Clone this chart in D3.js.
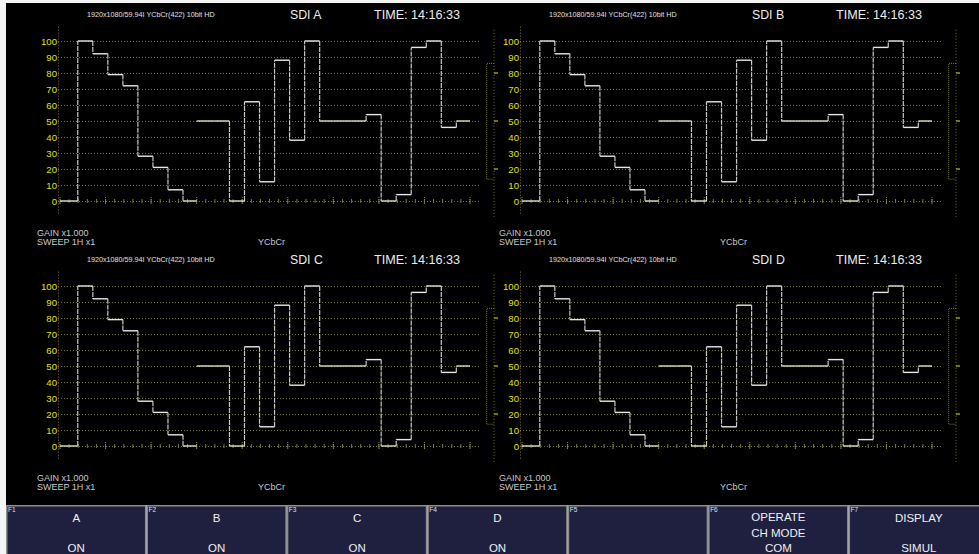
<!DOCTYPE html>
<html><head><meta charset="utf-8">
<script src="https://cdn.jsdelivr.net/npm/d3@7/dist/d3.min.js"></script>
<style>html,body{margin:0;padding:0;background:#fff;overflow:hidden}svg{display:block}text{font-family:"Liberation Sans",Arial,sans-serif}</style>
</head><body><svg id="c" width="979" height="554"></svg>
<script>
// ---------- data ----------
const channels = ["SDI A", "SDI B", "SDI C", "SDI D"];
const formatLabel = "1920x1080/59.94I YCbCr(422) 10bit HD";
const timeLabel = "TIME: 14:16:33";
const yTicks = [0, 10, 20, 30, 40, 50, 60, 70, 80, 90, 100];
const components = ["Y", "Cb", "Cr"];
const blankLevels = [0, 50, 50];
const yLevels = [100, 92, 79, 72, 28, 21, 7];
const cbLevels = [50, 0, 62, 12, 88, 38, 100];
const crLevels = [50, 54, 0, 4, 96, 100, 46];
const componentLevels = [yLevels, cbLevels, crLevels];
const gainText = "GAIN x1.000";
const sweepText = "SWEEP 1H x1";
const modeText = "YCbCr";
const bracketMarks = [80, 50, 20];
const keyNames = ["F1", "F2", "F3", "F4", "F5", "F6", "F7"];
const keyTop = [["A"], ["B"], ["C"], ["D"], [], ["OPERATE", "CH MODE"], ["DISPLAY"]];
const keyBottom = ["ON", "ON", "ON", "ON", "", "COM", "SIMUL"];

// ---------- layout ----------
const svg = d3.select("#c");
svg.append("rect").attr("x", 0).attr("y", 0).attr("width", 979).attr("height", 554).attr("fill", "#f4f4f4");
svg.append("rect").attr("x", 6).attr("y", 3).attr("width", 973).attr("height", 502).attr("fill", "#000");

const panelOffsets = [[0, 0], [462, 0], [0, 245], [462, 245]];
const gridCol = "#767632";
const activeStart = 0.13, barW = 0.11;

channels.forEach((name, pi) => {
  const [ox, oy] = panelOffsets[pi];
  const g = svg.append("g").attr("transform", `translate(${ox},${oy})`);
  const y = d3.scaleLinear().domain([0, 100]).range([201, 41]);
  const x = d3.scaleLinear().domain([0, 3]).range([60, 470]);

  // vertical dotted axis line
  g.append("line").attr("x1", 58.5).attr("x2", 58.5).attr("y1", y(109)).attr("y2", y(-8))
    .attr("stroke", gridCol).attr("stroke-dasharray", "1,2");

  // y axis with gridlines
  const ax = g.append("g").attr("transform", "translate(58,0)")
    .call(d3.axisLeft(y).tickValues(yTicks).tickSize(-(480 - 58)).tickSizeOuter(0).tickPadding(1));
  ax.select(".domain").remove();
  ax.selectAll(".tick line").attr("stroke", gridCol).attr("stroke-dasharray", "1,2");
  ax.selectAll(".tick text").attr("fill", "#e2e200").attr("font-size", "9.6px")
    .attr("font-family", "Liberation Sans, Arial, sans-serif");

  // ticks on the zero line
  const minor = d3.range(0, 45 + 1).map(i => i / 15);
  g.selectAll(".mt").data(minor).enter().append("line")
    .attr("x1", d => x(d)).attr("x2", d => x(d))
    .attr("y1", y(0) - 2).attr("y2", y(0) + 2)
    .attr("stroke", "#7a7a38").attr("stroke-width", 1);
  const major = d3.range(0, 10).map(i => i / 3);
  g.selectAll(".Mt").data(major).enter().append("line")
    .attr("x1", d => x(d)).attr("x2", d => x(d))
    .attr("y1", y(0) - 4).attr("y2", y(0) + 4)
    .attr("stroke", "#8a8a3c").attr("stroke-width", 1).attr("stroke-dasharray", "1,1");

  // waveform
  components.forEach((c, k) => {
    const lv = componentLevels[k];
    const bl = blankLevels[k];
    const segs = [];
    const edges = [k];
    const levels = [bl];
    lv.forEach((v, i) => { edges.push(k + activeStart + i * barW); levels.push(v); });
    edges.push(k + activeStart + lv.length * barW); levels.push(bl);
    edges.push(k + 1);
    for (let i = 0; i < levels.length; i++) segs.push({ x0: edges[i], x1: edges[i + 1], v: levels[i] });
    const verts = [];
    for (let i = 1; i < levels.length; i++) if (levels[i] !== levels[i - 1])
      verts.push({ x: edges[i], v0: levels[i - 1], v1: levels[i] });
    g.selectAll(null).data(verts).enter().append("line")
      .attr("x1", d => x(d.x)).attr("x2", d => x(d.x))
      .attr("y1", d => y(d.v0)).attr("y2", d => y(d.v1))
      .attr("stroke", "#c8c8c8").attr("stroke-width", 1.2).attr("stroke-dasharray", "5,1");
    g.selectAll(null).data(segs).enter().append("line")
      .attr("x1", d => x(d.x0)).attr("x2", d => x(d.x1))
      .attr("y1", d => y(d.v)).attr("y2", d => y(d.v))
      .attr("stroke", d => (d.v === 0 || d.v === 50) ? "#e4e4c4" : "#e8e8e8").attr("stroke-width", 1.4);
  });

  // right bracket
  const bx0 = 486.7, bx1 = 494;
  g.append("path")
    .attr("d", `M${bx1},${y(86)}H${bx0}V${y(13.6)}H${bx1}`)
    .attr("fill", "none").attr("stroke", gridCol).attr("stroke-dasharray", "1,1");
  g.append("line").attr("x1", bx1).attr("x2", bx1).attr("y1", y(107)).attr("y2", y(-10.5))
    .attr("stroke", gridCol).attr("stroke-dasharray", "1,2");
  g.selectAll(null).data(bracketMarks).enter().append("line")
    .attr("x1", bx1).attr("x2", bx1 + 4).attr("y1", d => y(d)).attr("y2", d => y(d))
    .attr("stroke", "#b8b800").attr("stroke-width", 1.3);

  // header texts
  g.append("text").attr("x", 87).attr("y", 16.5).attr("fill", "#e0e0e0").attr("font-size", "7.2px").text(formatLabel);
  g.append("text").attr("x", 290).attr("y", 18.5).attr("fill", "#ececec").attr("font-size", "12.3px").text(name);
  g.append("text").attr("x", 374).attr("y", 18.5).attr("fill", "#ececec").attr("font-size", "12.6px").text(timeLabel);

  // footer texts
  g.append("text").attr("x", 37).attr("y", 235.5).attr("fill", "#c8c8c8").attr("font-size", "9px").text(gainText);
  g.append("text").attr("x", 37).attr("y", 245).attr("fill", "#c8c8c8").attr("font-size", "9px").text(sweepText);
  g.append("text").attr("x", 258).attr("y", 245).attr("fill", "#c8c8c8").attr("font-size", "9px").text(modeText);
});

// ---------- function keys ----------
const kx = d3.scaleLinear().domain([0, 7]).range([6, 989]);
keyNames.forEach((kn, i) => {
  const x0 = kx(i), x1 = kx(i + 1), cx = (x0 + x1) / 2;
  const g = svg.append("g");
  g.append("rect").attr("x", x0 + 0.75).attr("y", 505.75).attr("width", x1 - x0 - 1.5).attr("height", 52)
    .attr("fill", "#1f1f3f").attr("stroke", "#8c8c8c").attr("stroke-width", 1.5);
  g.append("text").attr("x", x0 + 2).attr("y", 512).attr("fill", "#e0e0e0").attr("font-size", "6.5px").text(kn);
  const top = keyTop[i];
  const ys = top.length === 2 ? [517, 532.5] : [518];
  top.forEach((t, j) => {
    g.append("text").attr("x", cx).attr("y", ys[j]).attr("text-anchor", "middle")
      .attr("dominant-baseline", "central").attr("fill", "#f0f0f0").attr("font-size", "11.5px").text(t);
  });
  g.append("text").attr("x", cx).attr("y", 548).attr("text-anchor", "middle")
    .attr("dominant-baseline", "central").attr("fill", "#f0f0f0").attr("font-size", "11.5px").text(keyBottom[i]);
});
</script></body></html>
